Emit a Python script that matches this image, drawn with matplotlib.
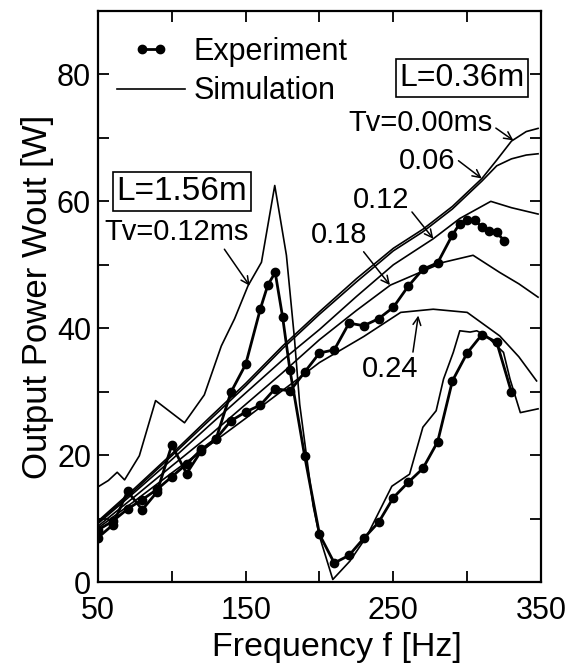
import matplotlib
matplotlib.use("Agg")
import matplotlib.pyplot as plt
from matplotlib.legend_handler import HandlerLine2D
from matplotlib.lines import Line2D

plt.rcParams['font.family'] = ['Liberation Sans', 'DejaVu Sans']

# ---- L = 1.56 m, experiment ----
f156_exp = [50, 60, 70, 80, 90, 100, 110, 120, 130, 140, 150, 160, 165, 170, 175, 180,
            190, 200, 210, 220, 230, 240, 250, 260, 270, 280, 290, 300, 310, 320, 330]
w156_exp = [7.0, 9.0, 14.3, 11.4, 14.2, 21.6, 17.1, 20.7, 22.6, 29.9, 34.3, 43.1, 46.8, 48.8, 41.8, 33.4,
            19.8, 7.5, 3.0, 4.2, 6.9, 9.4, 13.3, 15.7, 17.9, 22.1, 31.7, 36.1, 39.0, 37.8, 29.9]

# ---- L = 1.56 m, simulation Tv = 0.12 ms ----
f156_sim = [50, 57, 63, 68, 78, 89, 108.6, 122, 133.5, 142.5, 151.6, 160.7, 169.7, 177.6, 183, 186.6,
            195.7, 200, 209, 220.6, 232, 249, 261, 270, 279, 284, 290.6, 295, 302, 306.5, 313, 324.6,
            329, 336, 348]
w156_sim = [15.0, 16.0, 17.3, 16.1, 19.9, 28.6, 25.1, 29.5, 37.2, 41.5, 46.7, 50.4, 62.5, 51.5, 38.5, 28.0,
            12.0, 7.2, 0.4, 3.3, 7.2, 15.1, 17.0, 24.4, 27.0, 32.0, 36.2, 39.6, 39.4, 39.6, 38.8, 36.2,
            32.0, 26.7, 27.3]

# ---- L = 0.36 m, experiment ----
f036_exp = [50, 60, 70, 80, 90, 100, 110, 120, 130, 140, 150, 160, 170, 180, 190, 200, 210, 220, 230,
            240, 250, 260, 270, 280, 290, 295, 300, 305, 310, 315, 320, 325]
w036_exp = [8.2, 9.6, 11.5, 13.0, 14.6, 16.6, 18.6, 20.9, 22.6, 25.4, 26.8, 27.9, 30.5, 30.1, 33.1, 36.1,
            36.6, 40.8, 40.4, 41.5, 43.3, 46.6, 49.3, 50.3, 54.7, 56.5, 57.0, 57.1, 55.9, 55.4, 55.1, 53.8]

# ---- L = 0.36 m, simulations ----
f_tv000 = [50, 75, 100, 125, 150, 175, 200, 225, 250, 270, 290, 310, 320, 330, 340, 348]
w_tv000 = [9.6, 14.8, 20.2, 25.8, 31.3, 37.2, 42.6, 47.8, 52.6, 55.6, 59.2, 63.6, 66.5, 69.5, 71.0, 71.5]
f_tv006 = [50, 75, 100, 125, 150, 175, 200, 225, 250, 270, 290, 310, 320, 330, 340, 348]
w_tv006 = [9.4, 14.5, 19.9, 25.4, 30.9, 36.8, 42.2, 47.3, 52.2, 55.2, 58.8, 63.2, 65.6, 66.7, 67.3, 67.5]
f_tv012 = [50, 75, 100, 125, 150, 175, 200, 225, 250, 277, 295, 316, 330, 348]
w_tv012 = [9.2, 14.2, 19.3, 24.6, 29.8, 35.0, 39.8, 45.0, 50.0, 54.1, 57.3, 60.0, 59.0, 58.0]
f_tv018 = [50, 75, 100, 125, 150, 175, 200, 225, 248, 266, 284, 304, 322, 335, 348]
w_tv018 = [8.8, 13.5, 18.3, 23.0, 28.0, 33.0, 38.2, 42.8, 46.8, 48.6, 50.4, 51.5, 48.8, 47.0, 44.9]
f_tv024 = [50, 75, 100, 125, 150, 175, 187, 200, 230, 255, 277, 300, 322, 335, 347]
w_tv024 = [8.5, 12.8, 17.2, 21.5, 25.8, 30.2, 32.3, 34.6, 38.7, 42.5, 43.0, 42.5, 38.8, 35.5, 31.7]

x_ticks = [50, 100, 150, 200, 250, 300, 350]
x_labels = ['50', '', '150', '', '250', '', '350']
y_ticks = [0, 10, 20, 30, 40, 50, 60, 70, 80]
y_labels = ['0', '', '20', '', '40', '', '60', '', '80']

fig = plt.figure(figsize=(5.85, 6.68), dpi=100)
ax = fig.add_axes([0.1675, 0.1287, 0.7573, 0.8548])

sim_kw = dict(color='black', lw=1.2)
exp_kw = dict(color='black', lw=2.0, marker='o', ms=6)

for fx, wy in [(f_tv000, w_tv000), (f_tv006, w_tv006), (f_tv012, w_tv012),
               (f_tv018, w_tv018), (f_tv024, w_tv024), (f156_sim, w156_sim)]:
    ax.plot(fx, wy, **sim_kw)
ax.plot(f036_exp, w036_exp, **exp_kw)
ax.plot(f156_exp, w156_exp, **exp_kw)

ax.set_xlim(50, 350)
ax.set_ylim(0, 90)
ax.set_xticks(x_ticks)
ax.set_xticklabels(x_labels)
ax.set_yticks(y_ticks)
ax.set_yticklabels(y_labels)
ax.tick_params(direction='in', length=8, width=1.3, labelsize=22,
               top=True, right=True)
ax.tick_params(axis='x', pad=10)
ax.tick_params(axis='y', pad=5)
for s in ax.spines.values():
    s.set_linewidth(1.6)

ax.set_xlabel('Frequency f [Hz]', fontsize=24.5)
ax.xaxis.set_label_coords(0.54, -0.088)
ax.set_ylabel('Output Power Wout [W]', fontsize=25, labelpad=2)

h_exp = Line2D([], [], **exp_kw)
h_sim = Line2D([], [], **sim_kw)
leg = ax.legend([h_exp, h_sim], ['Experiment', 'Simulation'], loc='upper left',
                bbox_to_anchor=(0.03, 0.965), frameon=False, fontsize=22,
                handlelength=2.2, handletextpad=0.3, labelspacing=0.3, borderaxespad=0,
                borderpad=0.2,
                handler_map={h_exp: HandlerLine2D(marker_pad=0.8, numpoints=2)})

box_kw = dict(boxstyle='square,pad=0.12', fc='white', ec='black', lw=1.2)
ax.text(296.5, 79.4, 'L=0.36m', fontsize=23, ha='center', va='center', bbox=box_kw)
ax.text(106.9, 61.5, 'L=1.56m', fontsize=24, ha='center', va='center', bbox=box_kw)

arr = dict(arrowstyle='->', lw=1.1, color='black', shrinkA=0, shrinkB=0, mutation_scale=14)
def note(txt, tip, pos, relpos):
    a = dict(arr)
    a['relpos'] = relpos
    ax.annotate(txt, xy=tip, xytext=pos, fontsize=21, ha='center', va='center',
                arrowprops=a)

note('Tv=0.00ms', (331.3, 69.6), (268.7, 72.3), (1.0, 0.4))
note('0.06', (309.9, 63.6), (273.1, 66.3), (1.0, 0.6))
note('0.12', (277.1, 54.1), (241.6, 60.2), (1.0, 0.2))
note('0.18', (247.7, 46.8), (213.1, 54.7), (0.9, 0.0))
note('0.24', (266.9, 42.0), (247.7, 33.6), (0.9, 1.0))
note('Tv=0.12ms', (152.7, 46.7), (103.0, 55.1), (0.82, 0.0))

fig.savefig('out.png', dpi=100)
